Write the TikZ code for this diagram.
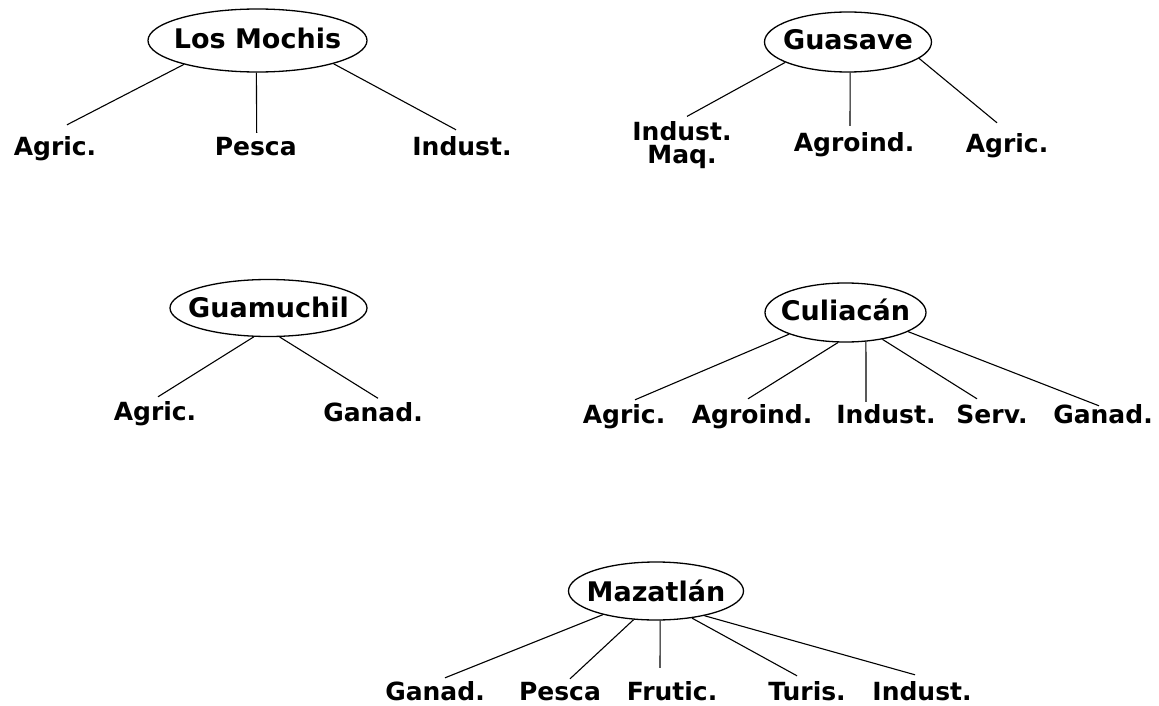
\documentclass[tikz,border=0pt]{standalone}
\usepackage{fontspec}
\setmainfont{DejaVu Sans}
\usetikzlibrary{shapes.geometric}
\begin{document}
\begin{tikzpicture}[x=1pt,y=-1pt,
  city/.style={ellipse, draw, line width=1.3pt, inner xsep=-40pt, inner ysep=-30pt,
    text depth=0pt, font=\fontsize{27}{30}\selectfont\bfseries},
  tagfont/.style={inner sep=0pt, font=\fontsize{25}{23}\selectfont\bfseries},
  tag/.style={tagfont, anchor=base, text height=18pt, text depth=5pt},
  link/.style={line width=1.1pt}]
\fill[white] (0,0) rectangle (1159,706);
\useasboundingbox (0,0) rectangle (1159,706);

% Los Mochis
\node[city, minimum width=219pt, minimum height=63pt, text height=16pt] (lm) at (257.5,40.5) {Los Mochis};
\node[tag] (lmA) at (55,155) {Agric.};
\node[tag] (lmP) at (255.7,155) {Pesca};
\node[tag] (lmI) at (462,155) {Indust.};
\draw[link] (lm.198.6) -- ([xshift=12pt,yshift=12pt]lmA.north);
\draw[link] (lm.268.2) -- ([xshift=1pt,yshift=4pt]lmP.north);
\draw[link] (lm.343.9) -- ([xshift=-6pt,yshift=7pt]lmI.north);

% Guasave
\node[city, minimum width=167pt, minimum height=60pt, text height=16pt] (gs) at (848,42) {Guasave};
\node[tagfont, align=center, anchor=north] (gsI) at (682,121.4) {Indust.\\Maq.};
\node[tag] (gsA) at (854,152) {Agroind.};
\node[tag] (gsG) at (1007,153) {Agric.};
\draw[link] (gs.198) -- ([xshift=5pt,yshift=5pt]gsI.north);
\draw[link] (gs.274) -- ([xshift=-4pt,yshift=8pt]gsA.north);
\draw[link] (gs.347) -- ([xshift=-10pt,yshift=12pt]gsG.north);

% Guamuchil
\node[city, minimum width=197pt, minimum height=57pt, text height=19pt] (gm) at (268.5,308) {Guamuchil};
\node[tag] (gmA) at (155,420) {Agric.};
\node[tag] (gmG) at (373,421.5) {Ganad.};
\draw[link] (gm.243) -- ([xshift=3pt,yshift=5pt]gmA.north);
\draw[link] (gm.291) -- ([xshift=5pt,yshift=5pt]gmG.north);

% Culiacán
\node[city, minimum width=161pt, minimum height=59pt, text height=15pt] (cu) at (845.5,312.5) {Culiacán};
\node[tag] (cuA) at (624,423) {Agric.};
\node[tag] (cuB) at (752,423) {Agroind.};
\node[tag] (cuI) at (886,423) {Indust.};
\node[tag] (cuS) at (992,423) {Serv.};
\node[tag] (cuG) at (1103,423) {Ganad.};
\draw[link] (cu.201.4) -- ([xshift=11pt,yshift=5pt]cuA.north);
\draw[link] (cu.256.2) -- ([xshift=-4pt,yshift=6pt]cuB.north);
\draw[link] (cu.305.3) -- ([xshift=-20pt,yshift=3pt]cuI.north);
\draw[link] (cu.324.5) -- ([xshift=-15pt,yshift=6pt]cuS.north);
\draw[link] (cu.343.7) -- ([xshift=-4pt,yshift=-1pt]cuG.north);

% Mazatlán
\node[city, minimum width=175pt, minimum height=58pt, text height=20pt] (mz) at (656,591) {Mazatlán};
\node[tag] (mzG) at (435,700) {Ganad.};
\node[tag] (mzP) at (560,700) {Pesca};
\node[tag] (mzF) at (672,700) {Frutic.};
\node[tag] (mzT) at (807,700) {Turis.};
\node[tag] (mzI) at (922,700) {Indust.};
\draw[link] (mz.204) -- ([xshift=10pt,yshift=4pt]mzG.north);
\draw[link] (mz.232) -- ([xshift=10pt,yshift=3pt]mzP.north);
\draw[link] (mz.278) -- ([xshift=-12pt,yshift=14pt]mzF.north);
\draw[link] (mz.323) -- ([xshift=-10pt,yshift=6pt]mzT.north);
\draw[link] (mz.333) -- ([xshift=-7pt,yshift=7pt]mzI.north);
\end{tikzpicture}
\end{document}
